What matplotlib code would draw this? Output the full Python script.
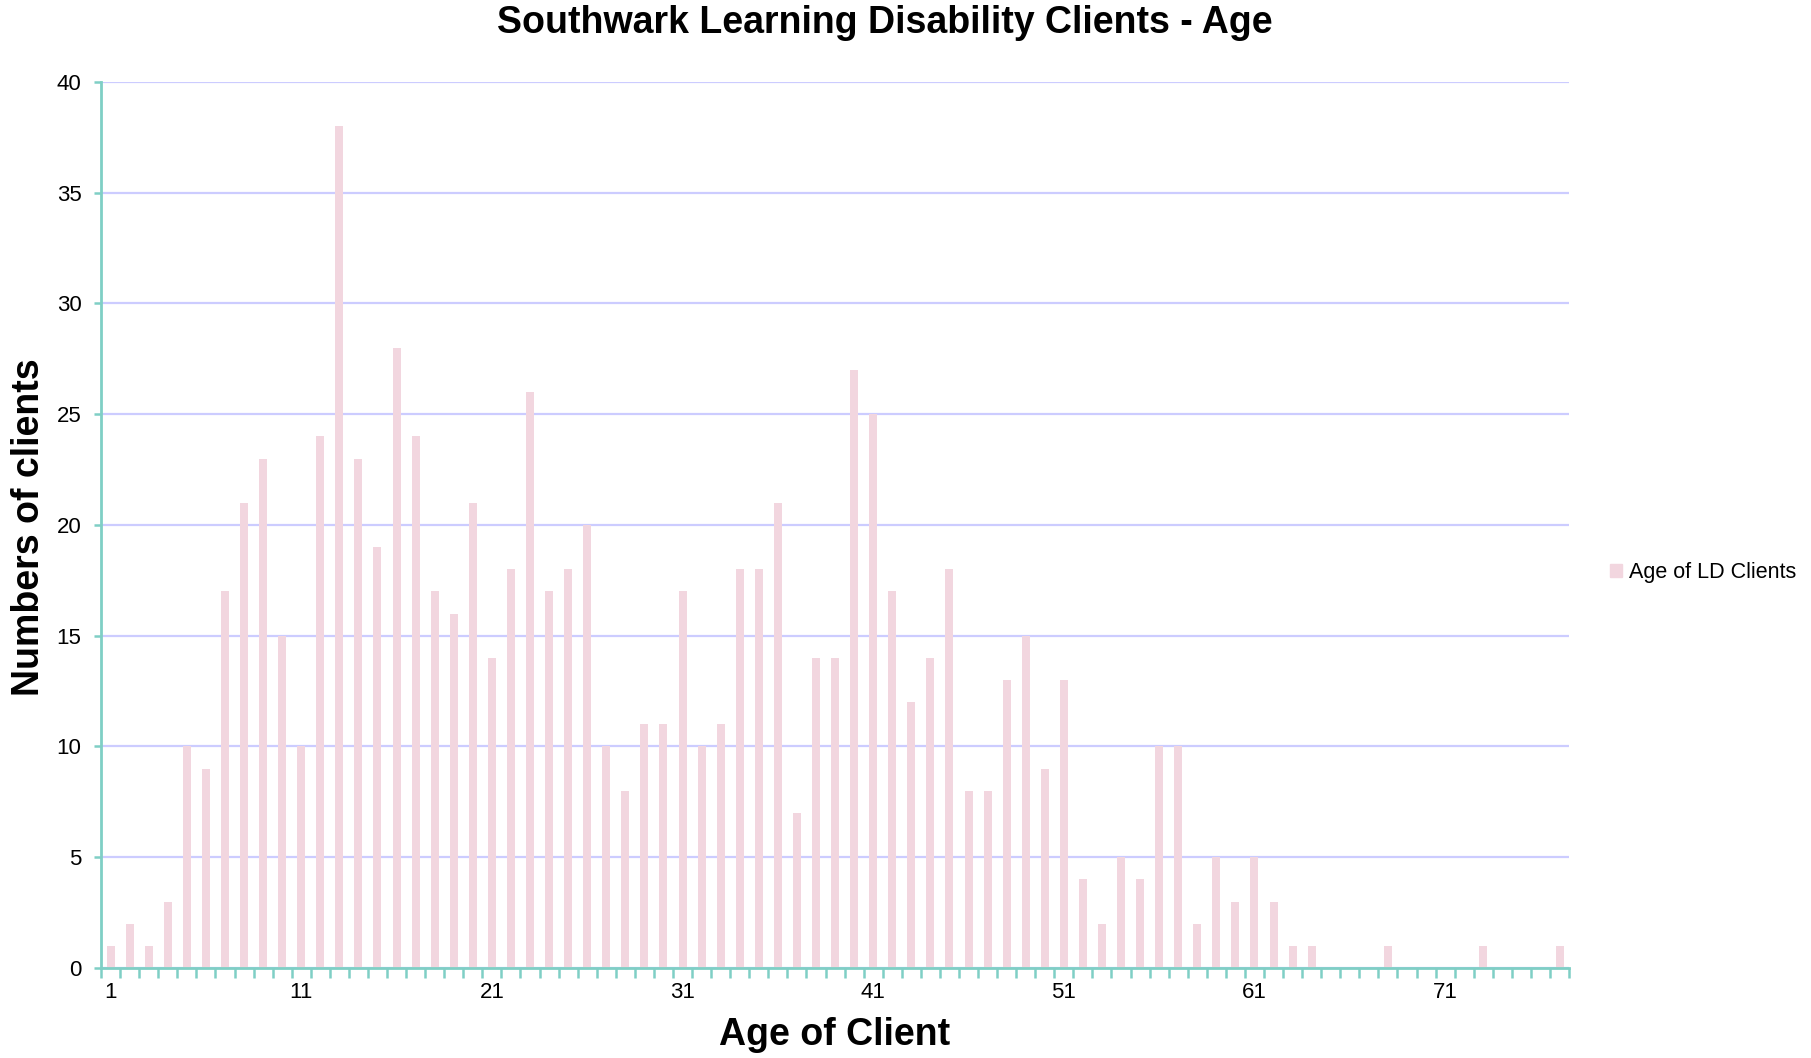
import numpy as np
import matplotlib.pyplot as plt
from matplotlib.patches import Patch

plt.rcParams["font.family"] = ["Liberation Sans", "DejaVu Sans"]

# ages 1..77 and number of clients at each age
ages = list(range(1, 78))
clients = [1, 2, 1, 3, 10, 9, 17, 21, 23, 15,
           10, 24, 38, 23, 19, 28, 24, 17, 16, 21,
           14, 18, 26, 17, 18, 20, 10, 8, 11, 11,
           17, 10, 11, 18, 18, 21, 7, 14, 14, 27,
           25, 17, 12, 14, 18, 8, 8, 13, 15, 9,
           13, 4, 2, 5, 4, 10, 10, 2, 5, 3,
           5, 3, 1, 1, 0, 0, 0, 1, 0, 0,
           0, 0, 1, 0, 0, 0, 1]
tick_labels = ["1", "11", "21", "31", "41", "51", "61", "71"]

bar_color = "#F2D6DF"
axis_color = "#7FCFC5"
grid_color = "#CCCCFF"

fig = plt.figure(figsize=(18.11, 10.58), dpi=100)
ax = fig.add_axes([0.0558, 0.0851, 0.8106, 0.8374])

x = np.arange(len(ages))
ax.bar(x, clients, width=0.42, color=bar_color, zorder=3)

ax.set_xlim(-0.5, len(ages) - 0.5)
ax.set_ylim(0, 40)
ax.set_yticks(range(0, 41, 5))
ax.yaxis.grid(True, color=grid_color, linewidth=1.6, zorder=0)

# labels every 10 years, tick marks at category boundaries
ax.set_xticks([ages.index(int(t)) for t in tick_labels])
ax.set_xticklabels(tick_labels)
ax.set_xticks(np.arange(-0.5, len(ages), 1), minor=True)
ax.tick_params(axis="x", which="major", length=0, pad=10, labelsize=16)
ax.tick_params(axis="x", which="minor", length=7, width=1.8, color=axis_color)
ax.tick_params(axis="y", length=5, width=1.8, color=axis_color, pad=9, labelsize=16)

for side in ["top", "right"]:
    ax.spines[side].set_visible(False)
for side in ["left", "bottom"]:
    ax.spines[side].set_color(axis_color)
    ax.spines[side].set_linewidth(2)
    ax.spines[side].set_zorder(4)

ax.set_xlabel("Age of Client", fontsize=27, fontweight="bold", va="center")
ax.set_ylabel("Numbers of clients", fontsize=27, fontweight="bold", va="center")
ax.xaxis.set_label_coords(0.5, -0.0756)
ax.yaxis.set_label_coords(-0.049, 0.497)

fig.text(0.4887, 0.978, "Southwark Learning Disability Clients - Age",
         fontsize=27, fontweight="bold", ha="center", va="center")

fig.legend(handles=[Patch(color=bar_color, label="Age of LD Clients")],
           loc="center left", bbox_to_anchor=(0.8785, 0.459), frameon=False,
           fontsize=15.5, handlelength=0.55, handleheight=0.55, handletextpad=0.3)

fig.savefig("out.png", dpi=100)
